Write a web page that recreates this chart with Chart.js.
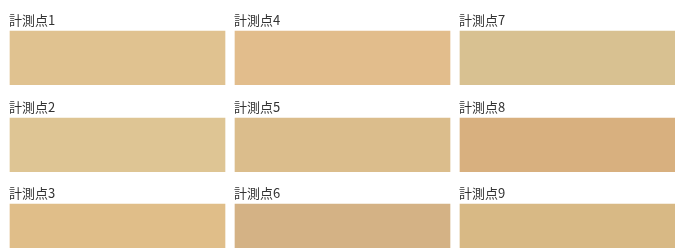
<!DOCTYPE html>
<html>
<head>
<meta charset="utf-8">
<script src="https://cdn.jsdelivr.net/npm/chart.js@4"></script>
<style>
  body { margin: 0; background: #fff; }
  .grid { position: relative; width: 675px; height: 248px; overflow: hidden; }
  .cell { position: absolute; width: 217px; height: 73px; }
</style>
</head>
<body>
<div class="grid" id="grid"></div>
<script>
// measurement points, in reading order (column by column)
const pointLabels = ["計測点1", "計測点2", "計測点3", "計測点4", "計測点5", "計測点6", "計測点7", "計測点8", "計測点9"];
const pointColors = ["#E0C290", "#DEC594", "#E0BE89", "#E2BD8C", "#DBBD8C", "#D4B285", "#D8C191", "#D8B07F", "#D8B985"];
const swatchValues = [1, 1, 1, 1, 1, 1, 1, 1, 1];

const grid = document.getElementById("grid");
const colLeft = [9, 234, 459];
const rowTop = [12, 99, 185];

pointLabels.forEach((label, i) => {
  const col = Math.floor(i / 3);
  const row = i % 3;
  const div = document.createElement("div");
  div.className = "cell";
  div.style.left = colLeft[col] + "px";
  div.style.top = rowTop[row] + "px";
  const canvas = document.createElement("canvas");
  div.appendChild(canvas);
  grid.appendChild(div);

  new Chart(canvas, {
    type: "bar",
    data: {
      labels: [label],
      datasets: [
        {
          data: [swatchValues[i]],
          backgroundColor: pointColors[i],
          borderColor: "rgba(255, 255, 255, 0.3)",
          borderWidth: 1,
          categoryPercentage: 1,
          barPercentage: 1,
        },
      ],
    },
    options: {
      responsive: true,
      maintainAspectRatio: false,
      animation: false,
      layout: { padding: 0 },
      scales: {
        x: { display: false },
        y: { display: false, min: 0, max: 1 },
      },
      plugins: {
        legend: { display: false },
        tooltip: { enabled: false },
        title: {
          display: true,
          text: label,
          align: "start",
          color: "#333",
          font: { family: "'Noto Sans CJK JP', 'Noto Sans', sans-serif", size: 13, weight: "normal", lineHeight: "15px" },
          padding: { top: 1, bottom: 2 },
        },
      },
    },
  });
});
</script>
</body>
</html>
